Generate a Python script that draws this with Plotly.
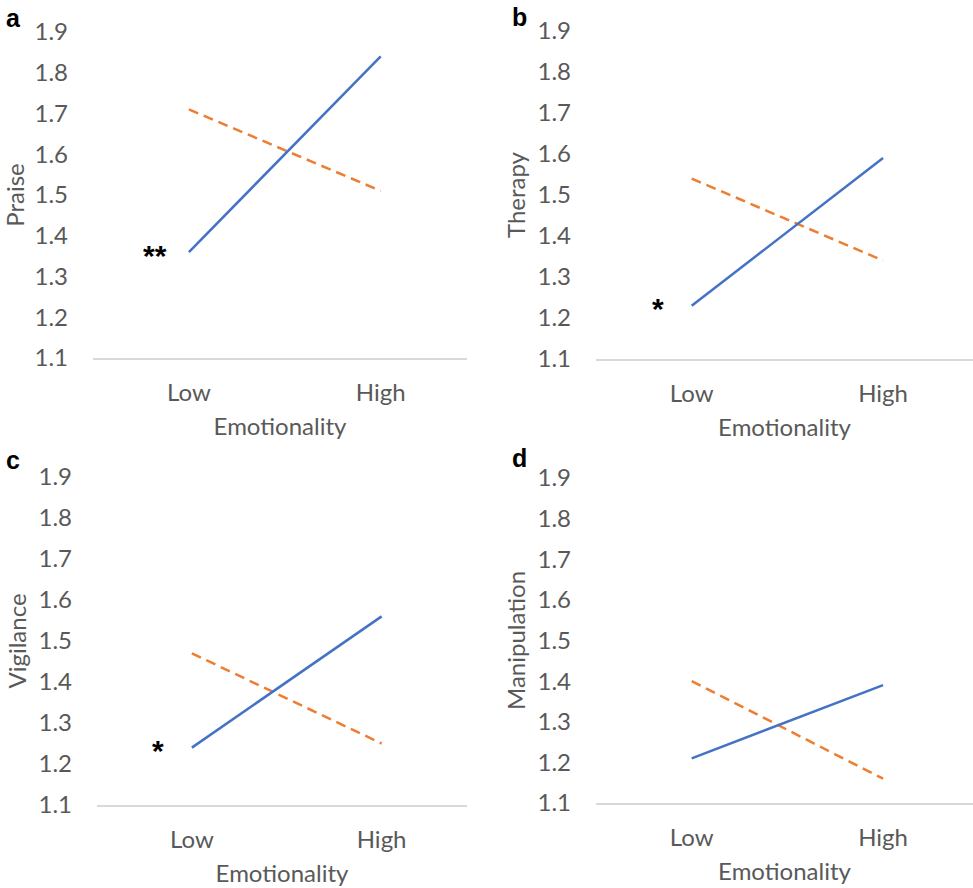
import plotly.graph_objects as go

categories = ["Low", "High"]
panel_letters = ["a", "b", "c", "d"]
y_titles = ["Praise", "Therapy", "Vigilance", "Manipulation"]
solid_values = [[1.36, 1.84], [1.23, 1.59], [1.24, 1.56], [1.21, 1.39]]
dashed_values = [[1.71, 1.51], [1.54, 1.34], [1.47, 1.25], [1.40, 1.16]]
significance = ["**", "*", "*", ""]
y_tick_values = [1.1, 1.2, 1.3, 1.4, 1.5, 1.6, 1.7, 1.8, 1.9]
x_title = "Emotionality"

W, H = 973, 888
BLUE = "#4472C4"
ORANGE = "#ED7D31"
GRAY = "#595959"
FONT = "Lato"

# pixel geometry per panel: (x0, x1, ytop, ybottom)
panels_px = [(93, 467, 32, 358), (596, 973, 31, 359), (97, 467, 477, 805), (596, 973, 478, 803)]
x_ranges = [[-0.5, 1.45], [-0.5, 1.47], [-0.5, 1.45], [-0.5, 1.47]]

fig = go.Figure()
layout = {}
for i in range(4):
    n = "" if i == 0 else str(i + 1)
    x0, x1, yt, yb = panels_px[i]
    xa = "x" + n
    ya = "y" + n
    fig.add_trace(go.Scatter(x=categories, y=dashed_values[i], mode="lines",
                             line=dict(color=ORANGE, width=2.5, dash="10px,6px"),
                             xaxis=xa, yaxis=ya, showlegend=False, name="Dashed"))
    fig.add_trace(go.Scatter(x=categories, y=solid_values[i], mode="lines",
                             line=dict(color=BLUE, width=2.5),
                             xaxis=xa, yaxis=ya, showlegend=False, name="Solid"))
    layout["xaxis" + n] = dict(
        domain=[x0 / W, x1 / W], anchor=ya, type="category", automargin=False,
        range=x_ranges[i], showgrid=False, showline=True, linecolor="#D9D9D9",
        linewidth=1.5, ticks="", zeroline=False,
        tickfont=dict(family=FONT, size=24, color=GRAY), ticklabelstandoff=12,
        title=dict(text=x_title, font=dict(family=FONT, size=24, color=GRAY), standoff=14),
    )
    layout["yaxis" + n] = dict(
        domain=[1 - yb / H, 1 - yt / H], anchor=xa, range=[1.1, 1.9], automargin=False,
        tickvals=y_tick_values, ticktext=[f"{v:.1f}" for v in y_tick_values],
        showgrid=False, showline=False, zeroline=False, ticks="",
        tickfont=dict(family=FONT, size=24, color=GRAY), ticklabelstandoff=24,
        title=dict(text=y_titles[i], font=dict(family=FONT, size=24, color=GRAY), standoff=5),
    )
    if significance[i]:
        fig.add_annotation(x=0, y=solid_values[i][0], xref=xa, yref=ya,
                           text="<b>" + significance[i] + "</b>", showarrow=False,
                           xshift=-34, yshift=-3,
                           font=dict(family="Liberation Sans", size=30, color="black"))

letter_pos = [(13, 18), (519, 17), (13, 460), (519, 458)]
for letter, (lx, ly) in zip(panel_letters, letter_pos):
    fig.add_annotation(x=lx / W, y=1 - ly / H, xref="paper", yref="paper",
                       text="<b>" + letter + "</b>", showarrow=False,
                       xanchor="center", yanchor="middle",
                       font=dict(family="Liberation Sans", size=25, color="black"))

fig.update_layout(width=W, height=H, margin=dict(l=0, r=0, t=0, b=0),
                  plot_bgcolor="white", paper_bgcolor="white", **layout)
fig.write_html("out.html")
